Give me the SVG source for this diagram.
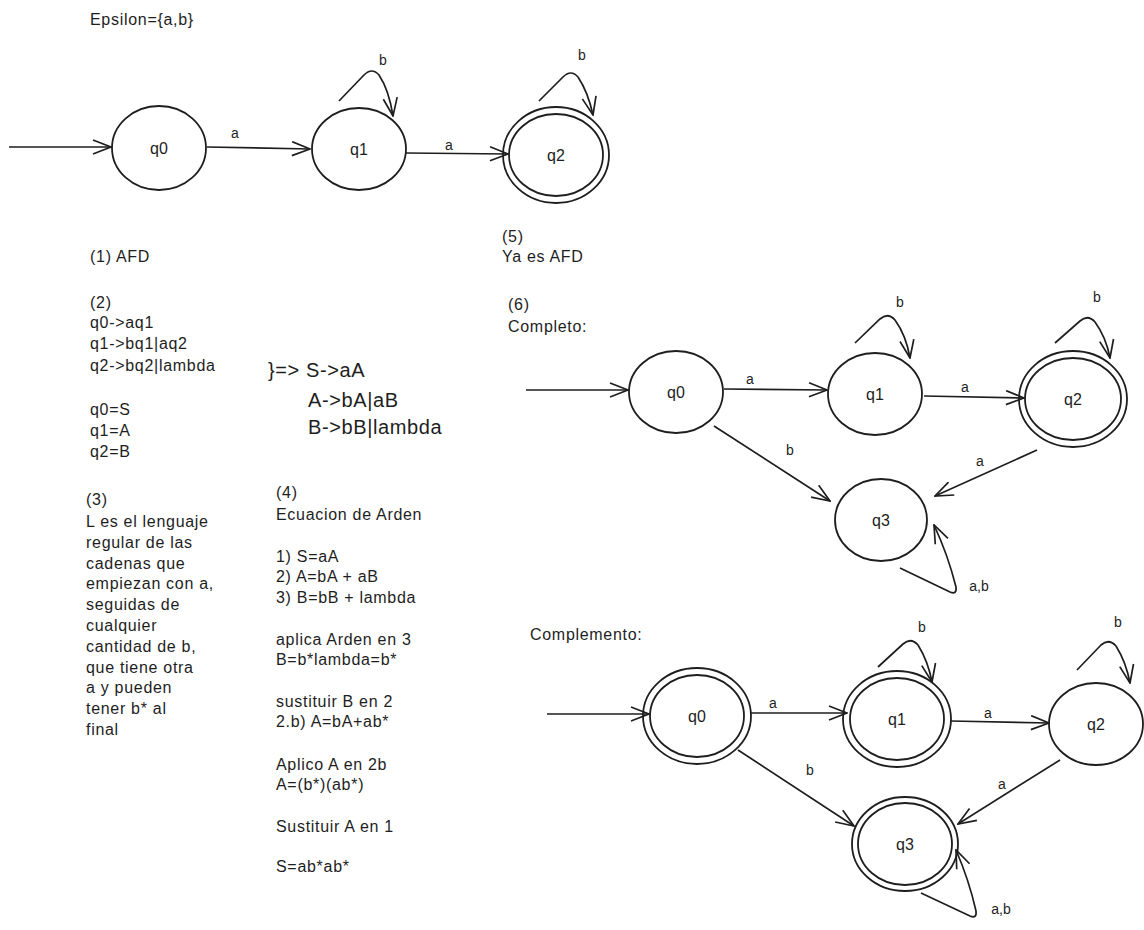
<svg xmlns="http://www.w3.org/2000/svg" width="1144" height="930" viewBox="0 0 1144 930">
<style>
text{font-family:"Liberation Sans",Arial,sans-serif;fill:#1e1e1e}
.t{font-size:16px;letter-spacing:0.7px}
.big{font-size:20px;letter-spacing:0.6px}
.st{font-size:16px;text-anchor:middle}
.lb{font-size:14px;text-anchor:middle}
.c{fill:none;stroke:#1e1e1e;stroke-width:1.8}
.e{fill:none;stroke:#1e1e1e;stroke-width:1.7}
</style>
<defs>
<marker id="ah" viewBox="0 0 20 16" refX="19" refY="8" markerWidth="20" markerHeight="16" orient="auto" markerUnits="userSpaceOnUse">
<path d="M1,1 L19,8 L1,15" fill="none" stroke="#1e1e1e" stroke-width="1.7"/>
</marker>
</defs>
<rect width="1144" height="930" fill="#ffffff"/>

<g id="texts">
<text class="t" x="90" y="25">Epsilon={a,b}</text>
<text class="t" x="90" y="262">(1) AFD</text>
<text class="t" x="90" y="308">(2)</text>
<text class="t" x="90" y="328">q0-&gt;aq1</text>
<text class="t" x="90" y="349">q1-&gt;bq1|aq2</text>
<text class="t" x="90" y="371">q2-&gt;bq2|lambda</text>
<text class="t" x="90" y="415">q0=S</text>
<text class="t" x="90" y="436">q1=A</text>
<text class="t" x="90" y="457">q2=B</text>
<text class="big" x="268" y="377">}=&gt; S-&gt;aA</text>
<text class="big" x="308" y="407">A-&gt;bA|aB</text>
<text class="big" x="308" y="434">B-&gt;bB|lambda</text>
<text class="t" x="86" y="505">(3)</text>
<text class="t" x="86" y="527">L es el lenguaje</text>
<text class="t" x="86" y="548">regular de las</text>
<text class="t" x="86" y="569">cadenas que</text>
<text class="t" x="86" y="589">empiezan con a,</text>
<text class="t" x="86" y="610">seguidas de</text>
<text class="t" x="86" y="631">cualquier</text>
<text class="t" x="86" y="652">cantidad de b,</text>
<text class="t" x="86" y="673">que tiene otra</text>
<text class="t" x="86" y="693">a y pueden</text>
<text class="t" x="86" y="714">tener b* al</text>
<text class="t" x="86" y="735">final</text>
<text class="t" x="276" y="498">(4)</text>
<text class="t" x="276" y="520">Ecuacion de Arden</text>
<text class="t" x="276" y="562">1) S=aA</text>
<text class="t" x="276" y="582">2) A=bA + aB</text>
<text class="t" x="276" y="603">3) B=bB + lambda</text>
<text class="t" x="276" y="645">aplica Arden en 3</text>
<text class="t" x="276" y="665">B=b*lambda=b*</text>
<text class="t" x="276" y="707">sustituir B en 2</text>
<text class="t" x="276" y="727">2.b) A=bA+ab*</text>
<text class="t" x="276" y="770">Aplico A en 2b</text>
<text class="t" x="276" y="790">A=(b*)(ab*)</text>
<text class="t" x="276" y="832">Sustituir A en 1</text>
<text class="t" x="276" y="872">S=ab*ab*</text>
<text class="t" x="502" y="242">(5)</text>
<text class="t" x="502" y="262">Ya es AFD</text>
<text class="t" x="508" y="310">(6)</text>
<text class="t" x="508" y="332">Completo:</text>
<text class="t" x="530" y="640">Complemento:</text>
</g>

<g id="A_q0"><ellipse class="c" cx="159" cy="148" rx="47" ry="42"/><text class="st" x="159" y="154">q0</text></g>
<g id="A_q1"><ellipse class="c" cx="359" cy="149" rx="47" ry="41"/><text class="st" x="359" y="155">q1</text></g>
<g id="A_q2"><ellipse class="c" cx="556" cy="155" rx="53" ry="48"/><ellipse class="c" cx="556" cy="155" rx="47" ry="41"/><text class="st" x="556" y="161">q2</text></g>

<g id="B_q0"><ellipse class="c" cx="676" cy="392" rx="47" ry="41"/><text class="st" x="676" y="398">q0</text></g>
<g id="B_q1"><ellipse class="c" cx="875" cy="394" rx="47" ry="41"/><text class="st" x="875" y="400">q1</text></g>
<g id="B_q2"><ellipse class="c" cx="1073" cy="399" rx="54" ry="48"/><ellipse class="c" cx="1073" cy="399" rx="48" ry="41"/><text class="st" x="1073" y="405">q2</text></g>
<g id="B_q3"><ellipse class="c" cx="881" cy="520" rx="46" ry="41"/><text class="st" x="881" y="526">q3</text></g>

<g id="C_q0"><ellipse class="c" cx="697" cy="716" rx="54" ry="48"/><ellipse class="c" cx="697" cy="716" rx="47" ry="41"/><text class="st" x="697" y="722">q0</text></g>
<g id="C_q1"><ellipse class="c" cx="897" cy="719" rx="54" ry="48"/><ellipse class="c" cx="897" cy="719" rx="47" ry="41"/><text class="st" x="897" y="725">q1</text></g>
<g id="C_q2"><ellipse class="c" cx="1096" cy="724" rx="47" ry="41"/><text class="st" x="1096" y="730">q2</text></g>
<g id="C_q3"><ellipse class="c" cx="905" cy="844" rx="53" ry="47"/><ellipse class="c" cx="905" cy="844" rx="47" ry="41"/><text class="st" x="905" y="850">q3</text></g>

<g id="connectors">
<path class="e" d="M9,147 L111,147" marker-end="url(#ah)"/>
<path class="e" d="M207,147 L310,149" marker-end="url(#ah)"/>
<text class="lb" x="235" y="138">a</text>
<path class="e" d="M406,153 L508,154" marker-end="url(#ah)"/>
<text class="lb" x="449" y="150">a</text>
<path class="e" d="M339,101 L364,75 Q372,67 379,75 Q389,90 393,116" marker-end="url(#ah)"/>
<text class="lb" x="383" y="65">b</text>
<path class="e" d="M539,101 L563,77 Q571,69 578,77 Q588,92 593,115" marker-end="url(#ah)"/>
<text class="lb" x="582" y="60">b</text>

<path class="e" d="M526,390 L628,390" marker-end="url(#ah)"/>
<path class="e" d="M724,389 L827,390" marker-end="url(#ah)"/>
<text class="lb" x="750" y="384">a</text>
<path class="e" d="M924,396 L1024,398" marker-end="url(#ah)"/>
<text class="lb" x="965" y="392">a</text>
<path class="e" d="M714,426 L830,501" marker-end="url(#ah)"/>
<text class="lb" x="790" y="455">b</text>
<path class="e" d="M1037,450 L935,496" marker-end="url(#ah)"/>
<text class="lb" x="980" y="466">a</text>
<path class="e" d="M855,343 L880,319 Q888,312 895,320 Q906,335 910,358" marker-end="url(#ah)"/>
<text class="lb" x="900" y="307">b</text>
<path class="e" d="M1055,343 L1080,321 Q1088,314 1095,322 Q1106,337 1110,358" marker-end="url(#ah)"/>
<text class="lb" x="1097" y="302">b</text>
<path class="e" d="M900,568 L950,592 Q957,595 956,587 Q948,555 934,525" marker-end="url(#ah)"/>
<text class="lb" x="979" y="591">a,b</text>

<path class="e" d="M547,714 L649,714" marker-end="url(#ah)"/>
<path class="e" d="M751,713 L847,713" marker-end="url(#ah)"/>
<text class="lb" x="773" y="708">a</text>
<path class="e" d="M951,721 L1049,723" marker-end="url(#ah)"/>
<text class="lb" x="988" y="718">a</text>
<path class="e" d="M738,750 L854,826" marker-end="url(#ah)"/>
<text class="lb" x="810" y="775">b</text>
<path class="e" d="M1060,760 L958,824" marker-end="url(#ah)"/>
<text class="lb" x="1002" y="789">a</text>
<path class="e" d="M878,667 L903,644 Q911,637 918,645 Q928,661 932,682" marker-end="url(#ah)"/>
<text class="lb" x="922" y="632">b</text>
<path class="e" d="M1077,670 L1101,645 Q1109,638 1116,646 Q1126,662 1130,683" marker-end="url(#ah)"/>
<text class="lb" x="1118" y="627">b</text>
<path class="e" d="M921,893 L970,916 Q977,919 976,911 Q969,880 956,850" marker-end="url(#ah)"/>
<text class="lb" x="1001" y="914">a,b</text>
</g>
</svg>
